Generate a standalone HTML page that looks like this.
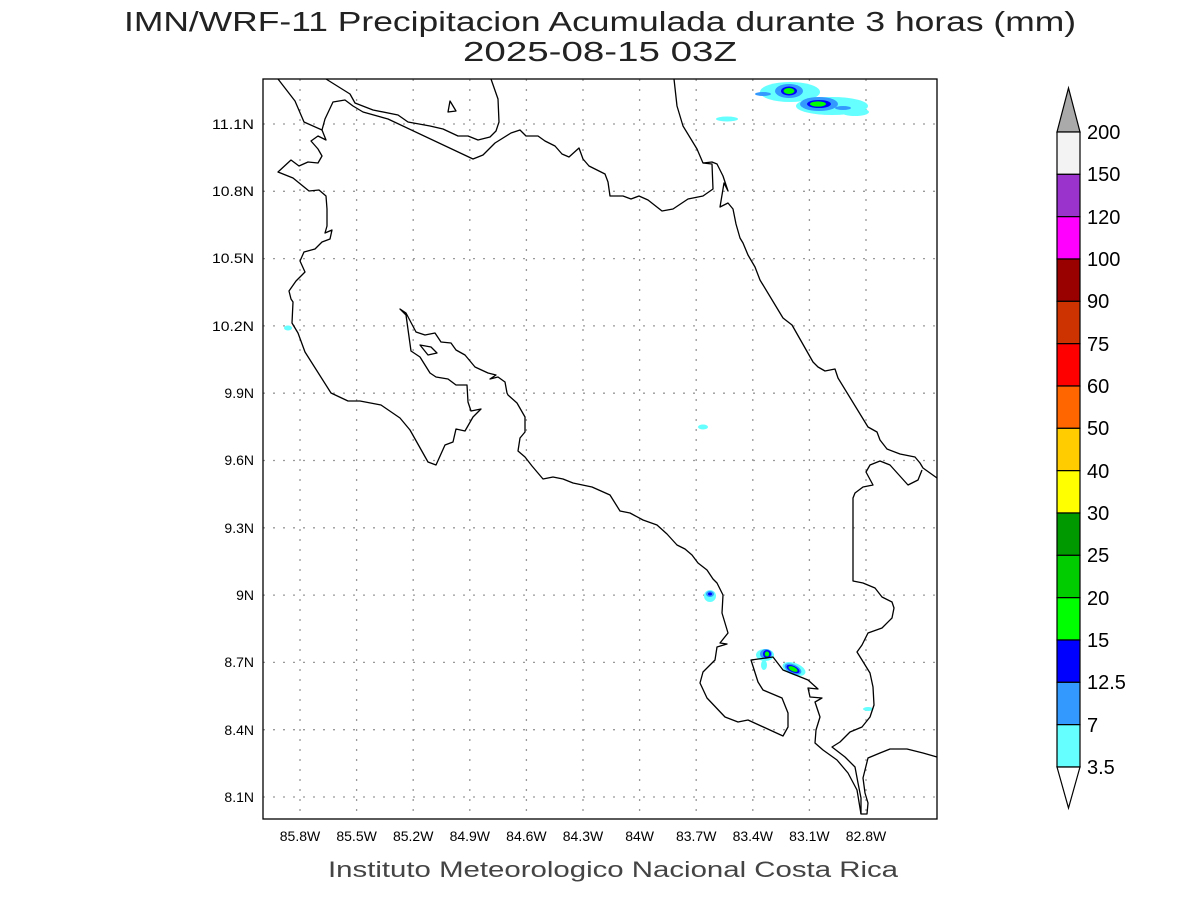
<!DOCTYPE html>
<html><head><meta charset="utf-8"><style>html,body{margin:0;padding:0;background:#fff}svg{display:block}</style></head>
<body>
<svg width="1200" height="900" viewBox="0 0 1200 900" xmlns="http://www.w3.org/2000/svg" font-family="Liberation Sans, sans-serif">
<rect width="1200" height="900" fill="#fff"/>
<text x="600" y="31" font-size="28" fill="#222" text-anchor="middle" textLength="952" lengthAdjust="spacingAndGlyphs">IMN/WRF-11 Precipitacion Acumulada durante 3 horas (mm)</text>
<text x="600" y="61" font-size="28" fill="#222" text-anchor="middle" textLength="274" lengthAdjust="spacingAndGlyphs">2025-08-15 03Z</text>

<g stroke="#999" stroke-width="1.3" stroke-dasharray="2,8">
<line x1="300" y1="79" x2="300" y2="819"/><line x1="356.6" y1="79" x2="356.6" y2="819"/><line x1="413.2" y1="79" x2="413.2" y2="819"/><line x1="469.8" y1="79" x2="469.8" y2="819"/><line x1="526.4" y1="79" x2="526.4" y2="819"/><line x1="583" y1="79" x2="583" y2="819"/><line x1="639.6" y1="79" x2="639.6" y2="819"/><line x1="696.2" y1="79" x2="696.2" y2="819"/><line x1="752.8" y1="79" x2="752.8" y2="819"/><line x1="809.4" y1="79" x2="809.4" y2="819"/><line x1="866" y1="79" x2="866" y2="819"/>
<line x1="263" y1="124" x2="937" y2="124"/><line x1="263" y1="191.3" x2="937" y2="191.3"/><line x1="263" y1="258.6" x2="937" y2="258.6"/><line x1="263" y1="325.9" x2="937" y2="325.9"/><line x1="263" y1="393.2" x2="937" y2="393.2"/><line x1="263" y1="460.5" x2="937" y2="460.5"/><line x1="263" y1="527.8" x2="937" y2="527.8"/><line x1="263" y1="595.1" x2="937" y2="595.1"/><line x1="263" y1="662.4" x2="937" y2="662.4"/><line x1="263" y1="729.7" x2="937" y2="729.7"/><line x1="263" y1="797" x2="937" y2="797"/>
</g>

<g>
<ellipse cx="790" cy="92" rx="30" ry="10" fill="#66ffff"/>
<ellipse cx="832" cy="106" rx="36" ry="9" fill="#66ffff"/>
<ellipse cx="855" cy="112" rx="14" ry="4" fill="#66ffff"/>
<ellipse cx="763" cy="94" rx="8" ry="2" fill="#3399ff"/>
<ellipse cx="789" cy="91" rx="14" ry="7" fill="#3399ff"/>
<ellipse cx="819" cy="104" rx="19" ry="7" fill="#3399ff"/>
<ellipse cx="843" cy="108" rx="8" ry="2" fill="#3399ff"/>
<ellipse cx="789" cy="91" rx="8" ry="4.5" fill="#0000ff"/>
<ellipse cx="819" cy="104" rx="12" ry="4" fill="#0000ff"/>
<ellipse cx="789" cy="91" rx="5.5" ry="3" fill="#00ff00"/>
<ellipse cx="818" cy="104" rx="8" ry="2.6" fill="#00ff00"/>
<ellipse cx="727" cy="119" rx="11" ry="2.5" fill="#66ffff"/>
<ellipse cx="288" cy="328" rx="4" ry="2.5" fill="#66ffff"/>
<ellipse cx="703" cy="427" rx="5" ry="2.5" fill="#66ffff"/>
<ellipse cx="710" cy="596" rx="6" ry="6" fill="#66ffff"/>
<ellipse cx="710" cy="594" rx="4" ry="3" fill="#3399ff"/>
<ellipse cx="710" cy="594" rx="2" ry="1.5" fill="#0000ff"/>
<ellipse cx="765" cy="655" rx="9" ry="6" fill="#66ffff"/>
<ellipse cx="764" cy="665" rx="3" ry="5" fill="#66ffff"/>
<ellipse cx="766" cy="654" rx="6" ry="5" fill="#3399ff"/>
<ellipse cx="767" cy="654" rx="4" ry="4" fill="#0000ff"/>
<ellipse cx="767" cy="654" rx="2.2" ry="2.5" fill="#00ff00"/>
<ellipse cx="794" cy="669" rx="12" ry="6" fill="#66ffff" transform="rotate(20 794 669)"/>
<ellipse cx="793" cy="669" rx="9" ry="4.5" fill="#3399ff" transform="rotate(25 793 669)"/>
<ellipse cx="793" cy="669" rx="7" ry="3.2" fill="#0000ff" transform="rotate(25 793 669)"/>
<ellipse cx="793" cy="669" rx="5" ry="2.2" fill="#00ff00" transform="rotate(25 793 669)"/>
<ellipse cx="868" cy="709" rx="5" ry="2" fill="#66ffff"/>
</g>

<g fill="none" stroke="#000" stroke-width="1.3" stroke-linejoin="round">
<polyline points="278,79 295,101 304,122 322,130 325,119 333,102 345,100 353,106 363,112 388,119 473,159 483,155 495,143 511,133 520,130 526,136 538,136 545,141 555,146 562,154 569,157 579,148 583,159 589,166 605,174 608,182 610,196 623,196 631,199 639,196 648,200 662,211 673,209 688,199 703,196 713,189 712,164 703,163"/>
<polyline points="326,79 350,94 355,103 373,110 398,115 408,122 430,126 443,129 458,136 468,136 478,140 490,137 496,131 499,122 498,99 491,79"/>
<polygon points="448,112 450,101 456,111"/>
<polyline points="674,79 677,106 683,126 697,149 703,163 712,162 717,164 723,176 728,191 724,183 720,207 728,203 733,209 736,224 740,238 743,243 748,255 755,267 760,280 783,318 792,325 813,362 818,367 825,371 835,369 838,378 868,427 877,432 880,440 887,449 900,454 915,457 920,463 923,468 937,478"/>
<polyline points="922,470 918,480 908,485 890,465 880,461 870,465 866,472 873,485 863,487 855,493 853,498 853,581 863,583 875,588 882,597 892,602 894,608 892,618 882,628 868,633 862,645 857,652 862,660 870,673 873,687 874,705 870,717 862,727 850,732 840,742 832,747 845,757 855,767 858,783 861,798 861,814 867,814 868,803 865,793 863,778 868,758 880,753 890,749 907,749 923,753 937,757"/>
<polyline points="322,130 326,140 318,136 311,141 318,149 322,156 318,163 308,162 299,166 291,160 278,172 293,178 309,191 319,190 326,196 327,209 327,226 325,233 332,230 330,239 322,242 315,249 304,252 300,261 305,272 296,281 289,291 291,299 293,302 292,323 298,333 305,352 331,393 348,401 360,401 381,405 400,418 410,430 428,462 436,465 445,445 453,442 456,429 465,431 473,417 481,409 471,411 468,402 467,385 456,385 448,379 436,377 430,373 420,357 411,351 406,315 400,309 406,313 416,332 425,335 435,333 441,342 451,343 456,350 465,355 475,367 488,373 496,375 490,379 498,377 505,382 507,393 508,395 517,403 525,417 525,432 520,438 518,451 525,457 532,466 543,479 553,477 563,479 573,483 592,487 610,495 620,511 630,513 643,520 657,525 667,534 677,545 685,549 692,555 698,563 707,570 713,579 717,583 723,595 722,613 728,633 720,643 727,644 717,647 715,660 703,672 700,683 707,698 725,717 738,722 748,720 783,736 788,727 788,713 782,698 763,690 758,682 751,660 773,657 783,670 808,680 818,689 808,688 810,697 822,698 815,702 820,717 816,730 815,743 823,750 837,760 848,773 857,790 861,814"/>
<polygon points="420,345 431,347 437,353 428,355"/>
</g>
<rect x="263" y="79" width="674" height="740" fill="none" stroke="#000" stroke-width="1.3"/>

<g font-size="14" text-anchor="end">
<text x="254" y="129" textLength="42" lengthAdjust="spacingAndGlyphs">11.1N</text><text x="254" y="196" textLength="42" lengthAdjust="spacingAndGlyphs">10.8N</text><text x="254" y="263" textLength="42" lengthAdjust="spacingAndGlyphs">10.5N</text><text x="254" y="331" textLength="42" lengthAdjust="spacingAndGlyphs">10.2N</text><text x="254" y="398">9.9N</text><text x="254" y="465">9.6N</text><text x="254" y="533">9.3N</text><text x="254" y="600">9N</text><text x="254" y="667">8.7N</text><text x="254" y="735">8.4N</text><text x="254" y="802">8.1N</text>
</g>
<g font-size="14" text-anchor="middle">
<text x="300" y="841">85.8W</text><text x="356.6" y="841">85.5W</text><text x="413.2" y="841">85.2W</text><text x="469.8" y="841">84.9W</text><text x="526.4" y="841">84.6W</text><text x="583" y="841">84.3W</text><text x="639.6" y="841">84W</text><text x="696.2" y="841">83.7W</text><text x="752.8" y="841">83.4W</text><text x="809.4" y="841">83.1W</text><text x="866" y="841">82.8W</text>
</g>
<text x="613" y="877" font-size="22" text-anchor="middle" fill="#444" textLength="570" lengthAdjust="spacingAndGlyphs">Instituto Meteorologico Nacional Costa Rica</text>

<g stroke="#000" stroke-width="1.2">
<polygon points="1057,132 1080,132 1068.5,88" fill="#aaaaaa"/>
<rect x="1057" y="132" width="23" height="42.33" fill="#f3f3f3"/>
<rect x="1057" y="174.33" width="23" height="42.33" fill="#9933cc"/>
<rect x="1057" y="216.67" width="23" height="42.33" fill="#ff00ff"/>
<rect x="1057" y="259" width="23" height="42.33" fill="#990000"/>
<rect x="1057" y="301.33" width="23" height="42.33" fill="#cc3300"/>
<rect x="1057" y="343.67" width="23" height="42.33" fill="#ff0000"/>
<rect x="1057" y="386" width="23" height="42.33" fill="#ff6600"/>
<rect x="1057" y="428.33" width="23" height="42.33" fill="#ffcc00"/>
<rect x="1057" y="470.67" width="23" height="42.33" fill="#ffff00"/>
<rect x="1057" y="513" width="23" height="42.33" fill="#009900"/>
<rect x="1057" y="555.33" width="23" height="42.33" fill="#00cc00"/>
<rect x="1057" y="597.67" width="23" height="42.33" fill="#00ff00"/>
<rect x="1057" y="640" width="23" height="42.33" fill="#0000ff"/>
<rect x="1057" y="682.33" width="23" height="42.33" fill="#3399ff"/>
<rect x="1057" y="724.67" width="23" height="42.33" fill="#66ffff"/>
<polygon points="1057,767 1080,767 1068.5,808" fill="#fff"/>
</g>
<g font-size="20">
<text x="1087" y="139">200</text><text x="1087" y="181">150</text><text x="1087" y="224">120</text><text x="1087" y="266">100</text><text x="1087" y="308">90</text><text x="1087" y="351">75</text><text x="1087" y="393">60</text><text x="1087" y="435">50</text><text x="1087" y="478">40</text><text x="1087" y="520">30</text><text x="1087" y="562">25</text><text x="1087" y="605">20</text><text x="1087" y="647">15</text><text x="1087" y="689">12.5</text><text x="1087" y="732">7</text><text x="1087" y="774">3.5</text>
</g>
</svg>
</body></html>
